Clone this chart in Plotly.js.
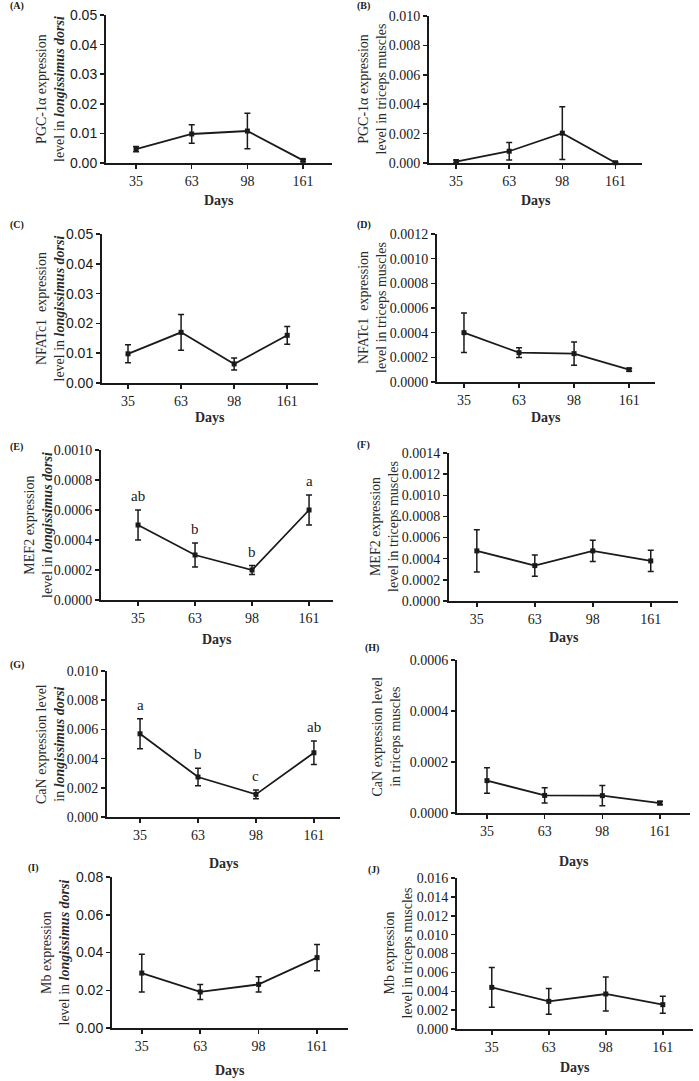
<!DOCTYPE html>
<html>
<head>
<meta charset="utf-8">
<script src="https://cdn.plot.ly/plotly-3.0.1.min.js"></script>
<style>
  body { margin: 0; background: #fff; }
  #fig { width: 699px; height: 1081px; }
</style>
</head>
<body>
<div id="fig"></div>
<script>
// sampling days (categories)
var days = ['35', '63', '98', '161'];

// PGC-1a
var pgcLD = [0.0047, 0.0098, 0.0108, 0.0009];
var pgcLDErr = [0.0009, 0.0031, 0.006, 0.0004];
var pgcTM = [0.0001, 0.0008, 0.00203, 0.00002];
var pgcTMErr = [0.0001, 0.0006, 0.0018, 0.00005];

// NFATc1
var nfatLD = [0.0098, 0.017, 0.0064, 0.016];
var nfatLDErr = [0.003, 0.006, 0.002, 0.003];
var nfatTM = [0.0004, 0.000238, 0.00023, 0.0001];
var nfatTMErr = [0.00016, 0.00004, 0.000095, 0.000012];

// MEF2
var mefLD = [0.0005, 0.0003, 0.0002, 0.0006];
var mefLDErr = [0.0001, 0.00008, 0.00003, 0.0001];
var mefLDLetters = ['ab', 'b', 'b', 'a'];
var mefTM = [0.000474, 0.000335, 0.000474, 0.000379];
var mefTMErr = [0.0002, 0.0001, 0.0001, 0.0001];

// CaN
var canLD = [0.0057, 0.00274, 0.00155, 0.0044];
var canLDErr = [0.00103, 0.0006, 0.0003, 0.0008];
var canLDLetters = ['a', 'b', 'c', 'ab'];
var canTM = [0.000127, 0.000069, 0.000068, 0.000039];
var canTMErr = [0.00005, 0.00003, 0.00004, 0.000007];

// Mb
var mbLD = [0.0291, 0.0191, 0.0231, 0.0373];
var mbLDErr = [0.01, 0.004, 0.004, 0.007];
var mbTM = [0.00441, 0.00293, 0.00371, 0.00258];
var mbTMErr = [0.0021, 0.00136, 0.0018, 0.0009];

var W = 699, H = 1081;
var serif = 'Liberation Serif, DejaVu Serif, serif';
var sans = 'Liberation Sans, Arial, sans-serif';
var ink = '#1a1a1a';

// panel boxes in pixels: l, r, t, b ; title x ; days y ; label x,y
var panels = [
  {tag: '(A)', y: pgcLD, e: pgcLDErr, max: 0.05, dt: 0.01, fmt: '.2f', tf: sans,
   title: 'PGC-1α expression<br>level in <b><i>longissimus dorsi</i></b>',
   l: 106, r: 332, t: 15, b: 163, xr: [-0.54, 3.52], tx: 51, dy: 200, lx: 8, ly: 6},
  {tag: '(B)', y: pgcTM, e: pgcTMErr, max: 0.010, dt: 0.002, fmt: '.3f', tf: serif,
   title: 'PGC-1α expression<br>level in triceps muscles',
   l: 429, r: 642, t: 16, b: 163, xr: [-0.51, 3.5], tx: 372, dy: 200, lx: 355, ly: 6},
  {tag: '(C)', y: nfatLD, e: nfatLDErr, max: 0.05, dt: 0.01, fmt: '.2f', tf: sans,
   title: 'NFATc1  expression<br>level in <b><i>longissimus dorsi</i></b>',
   l: 102, r: 318, t: 234, b: 383, xr: [-0.49, 3.58], tx: 50, dy: 418, lx: 8, ly: 225},
  {tag: '(D)', y: nfatTM, e: nfatTMErr, max: 0.0012, dt: 0.0002, fmt: '.4f', tf: serif,
   title: 'NFATc1  expression<br>level in triceps muscles',
   l: 437, r: 655, t: 234, b: 382, xr: [-0.49, 3.47], tx: 373, dy: 418, lx: 355, ly: 225},
  {tag: '(E)', y: mefLD, e: mefLDErr, max: 0.0010, dt: 0.0002, fmt: '.4f', tf: serif, letters: mefLDLetters,
   title: 'MEF2 expression<br>level in <b><i>longissimus dorsi</i></b>',
   l: 101, r: 333, t: 450, b: 600, xr: [-0.65, 3.42], tx: 38, dy: 639, lx: 8, ly: 447},
  {tag: '(F)', y: mefTM, e: mefTMErr, max: 0.0014, dt: 0.0002, fmt: '.4f', tf: serif,
   title: 'MEF2 expression<br>level in triceps muscles',
   l: 449, r: 678, t: 453, b: 601, xr: [-0.48, 3.47], tx: 384, dy: 637, lx: 355, ly: 445},
  {tag: '(G)', y: canLD, e: canLDErr, max: 0.010, dt: 0.002, fmt: '.3f', tf: serif, letters: canLDLetters,
   title: 'CaN expression level<br>in <b><i>longissimus dorsi</i></b>',
   l: 107, r: 340, t: 671, b: 817, xr: [-0.57, 3.45], tx: 50, dy: 863, lx: 8, ly: 665},
  {tag: '(H)', y: canTM, e: canTMErr, max: 0.0006, dt: 0.0002, fmt: '.4f', tf: serif,
   title: 'CaN expression level<br>in triceps muscles',
   l: 457, r: 690, t: 660, b: 813, xr: [-0.52, 3.52], tx: 386, dy: 861, lx: 363, ly: 648},
  {tag: '(I)', y: mbLD, e: mbLDErr, max: 0.08, dt: 0.02, fmt: '.2f', tf: sans,
   title: 'Mb expression<br>level in <b><i>longissimus dorsi</i></b>',
   l: 112, r: 348, t: 877, b: 1028, xr: [-0.51, 3.53], tx: 55, dy: 1070, lx: 26, ly: 868},
  {tag: '(J)', y: mbTM, e: mbTMErr, max: 0.016, dt: 0.002, fmt: '.3f', tf: serif,
   title: 'Mb expression<br>level in triceps muscles',
   l: 457, r: 693, t: 878, b: 1029, xr: [-0.61, 3.53], tx: 398, dy: 1067, lx: 366, ly: 870}
];

var data = [];
var layout = {
  width: W, height: H,
  margin: {l: 0, r: 0, t: 0, b: 0},
  paper_bgcolor: '#fff', plot_bgcolor: '#fff',
  showlegend: false,
  annotations: []
};

panels.forEach(function (p, i) {
  var n = i + 1;
  var xa = 'x' + (n === 1 ? '' : n), ya = 'y' + (n === 1 ? '' : n);
  data.push({
    x: days, y: p.y, xaxis: xa, yaxis: ya,
    type: 'scatter', mode: 'lines+markers',
    line: {color: ink, width: 1.8},
    marker: {symbol: 'square', size: 5, color: ink},
    error_y: {type: 'data', array: p.e, visible: true, color: ink, thickness: 1.5, width: 3},
    cliponaxis: false
  });
  layout['xaxis' + (n === 1 ? '' : n)] = {
    domain: [p.l / W, p.r / W], anchor: ya, type: 'category',
    range: p.xr, showline: true, linecolor: ink, linewidth: 2,
    ticks: 'outside', ticklen: 4, tickwidth: 1.5, tickcolor: ink,
    showgrid: false, zeroline: false,
    tickfont: {family: serif, size: 14, color: ink}
  };
  layout['yaxis' + (n === 1 ? '' : n)] = {
    domain: [1 - p.b / H, 1 - p.t / H], anchor: xa,
    range: [0, p.max], dtick: p.dt, tick0: 0, tickformat: p.fmt,
    showline: true, linecolor: ink, linewidth: 2,
    ticks: 'outside', ticklen: 4, tickwidth: 1.5, tickcolor: ink,
    showgrid: false, zeroline: false,
    tickfont: {family: p.tf, size: 14, color: ink}
  };
  // y title
  layout.annotations.push({
    xref: 'paper', yref: 'paper', x: p.tx / W, y: 1 - (p.t + p.b) / 2 / H,
    xanchor: 'center', yanchor: 'middle', textangle: -90, showarrow: false,
    text: p.title, align: 'center',
    font: {family: serif, size: 14, color: '#2a2a2a'}
  });
  // x title
  layout.annotations.push({
    xref: 'paper', yref: 'paper', x: (p.l + p.r) / 2 / W, y: 1 - p.dy / H,
    xanchor: 'center', yanchor: 'middle', showarrow: false,
    text: '<b>Days</b>', font: {family: serif, size: 14, color: '#2a2a2a'}
  });
  // panel label
  layout.annotations.push({
    xref: 'paper', yref: 'paper', x: p.lx / W, y: 1 - p.ly / H,
    xanchor: 'left', yanchor: 'middle', showarrow: false,
    text: '<b>' + p.tag + '</b>', font: {family: serif, size: 10, color: ink}
  });
  // significance letters above error bars (x given as category index)
  if (p.letters) {
    p.letters.forEach(function (s, k) {
      layout.annotations.push({
        xref: xa, yref: ya, x: k, y: p.y[k] + p.e[k],
        yshift: 14, xanchor: 'center', yanchor: 'middle', showarrow: false,
        text: s, font: {family: serif, size: 15, color: ink}
      });
    });
  }
});

Plotly.newPlot('fig', data, layout, {staticPlot: true});
</script>
</body>
</html>
